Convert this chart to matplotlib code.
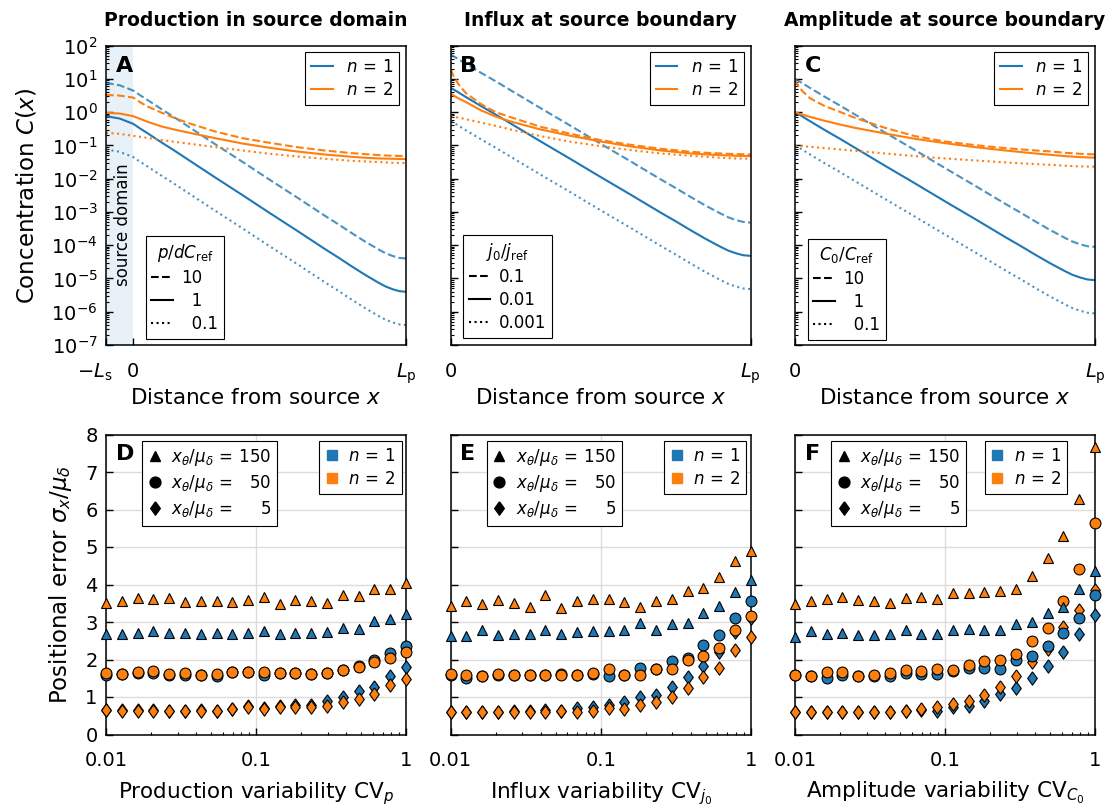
import numpy as np
import matplotlib
matplotlib.use("Agg")
import matplotlib.pyplot as plt
from matplotlib.lines import Line2D
from matplotlib.transforms import ScaledTranslation
from matplotlib.ticker import (LogLocator, NullFormatter, FixedLocator,
                               FixedFormatter, MultipleLocator)

plt.rcParams['font.family'] = ['DejaVu Sans']
plt.rcParams['mathtext.fontset'] = 'dejavusans'
plt.rcParams['axes.linewidth'] = 1.1

BLUE = '#1f77b4'
ORANGE = '#ff7f0e'

# ---------------- top row: concentration profiles (log10 C) ----------------
top_titles = ['Production in source domain', 'Influx at source boundary',
              'Amplitude at source boundary']
top_letters = ['A', 'B', 'C']
style_titles = [r'$p/dC_\mathrm{ref}$', r'$j_0/j_\mathrm{ref}$', r'$C_0/C_\mathrm{ref}$']
style_labels = [['10', '\u20071', '\u20070.1'],
                ['0.1', '0.01', '0.001'],
                ['10', '\u20071', '\u20070.1']]
n_labels = [r'$n\,=\,1$', r'$n\,=\,2$']

# n = 1 (blue) curves
x_A_n1 = [-0.1, -0.05, 0, 0.025, 0.05, 0.1, 0.15, 0.2, 0.3, 0.4, 0.5, 0.6, 0.65,
          0.7, 0.75, 0.8, 0.85, 0.875, 0.9, 0.925, 0.95, 0.975, 1.0]
A_n1_high = [0.88, 0.81, 0.65, 0.51, 0.38, 0.11, -0.15, -0.42, -0.96, -1.49, -2.03,
             -2.56, -2.83, -3.10, -3.36, -3.63, -3.89, -4.01, -4.13, -4.24, -4.32,
             -4.38, -4.40]
A_n1_mid = [-0.12, -0.19, -0.35, -0.49, -0.62, -0.89, -1.15, -1.42, -1.96, -2.49, -3.03,
            -3.56, -3.83, -4.10, -4.36, -4.63, -4.89, -5.01, -5.13, -5.24, -5.32,
            -5.38, -5.40]
A_n1_low = [-1.12, -1.19, -1.35, -1.49, -1.62, -1.89, -2.15, -2.42, -2.96, -3.49, -4.03,
            -4.56, -4.83, -5.10, -5.36, -5.63, -5.89, -6.01, -6.13, -6.24, -6.32,
            -6.38, -6.40]

x_B_n1 = [0, 0.01, 0.025, 0.05, 0.1, 0.15, 0.2, 0.3, 0.4, 0.5, 0.6, 0.65, 0.7, 0.75,
          0.8, 0.85, 0.875, 0.9, 0.925, 0.95, 0.975, 1.0]
B_n1_high = [1.73, 1.68, 1.60, 1.46, 1.19, 0.93, 0.66, 0.12, -0.41, -0.95, -1.48,
             -1.75, -2.02, -2.28, -2.55, -2.81, -2.93, -3.05, -3.16, -3.24, -3.30, -3.32]
B_n1_mid = [0.73, 0.68, 0.60, 0.46, 0.19, -0.07, -0.34, -0.88, -1.41, -1.95, -2.48,
            -2.75, -3.02, -3.28, -3.55, -3.81, -3.93, -4.05, -4.16, -4.24, -4.30, -4.32]
B_n1_low = [-0.27, -0.32, -0.40, -0.54, -0.81, -1.07, -1.34, -1.88, -2.41, -2.95, -3.48,
            -3.75, -4.02, -4.28, -4.55, -4.81, -4.93, -5.05, -5.16, -5.24, -5.30, -5.32]

x_C_n1 = [0, 0.01, 0.025, 0.05, 0.1, 0.15, 0.2, 0.3, 0.4, 0.5, 0.6, 0.65, 0.7, 0.75,
          0.8, 0.85, 0.875, 0.9, 0.925, 0.95, 0.975, 1.0]
C_n1_high = [1.0, 0.95, 0.87, 0.73, 0.46, 0.20, -0.07, -0.61, -1.14, -1.68, -2.21,
             -2.48, -2.75, -3.01, -3.28, -3.54, -3.66, -3.78, -3.89, -3.97, -4.03, -4.05]
C_n1_mid = [0.0, -0.05, -0.13, -0.27, -0.54, -0.80, -1.07, -1.61, -2.14, -2.68, -3.21,
            -3.48, -3.75, -4.01, -4.28, -4.54, -4.66, -4.78, -4.89, -4.97, -5.03, -5.05]
C_n1_low = [-1.0, -1.05, -1.13, -1.27, -1.54, -1.80, -2.07, -2.61, -3.14, -3.68, -4.21,
            -4.48, -4.75, -5.01, -5.28, -5.54, -5.66, -5.78, -5.89, -5.97, -6.03, -6.05]

# n = 2 (orange) curves
x_A_n2 = [-0.1, -0.05, 0, 0.025, 0.05, 0.1, 0.15, 0.2, 0.3, 0.4, 0.5, 0.6, 0.7,
          0.8, 0.85, 0.9, 0.95, 1.0]
A_n2_high = [0.52, 0.50, 0.44, 0.30, 0.18, 0.0, -0.17, -0.32, -0.58, -0.78,
             -0.92, -1.05, -1.15, -1.23, -1.26, -1.29, -1.31, -1.32]
A_n2_mid = [-0.02, -0.04, -0.12, -0.20, -0.28, -0.42, -0.52, -0.61, -0.78, -0.94,
            -1.07, -1.18, -1.27, -1.34, -1.37, -1.39, -1.40, -1.41]
A_n2_low = [-0.62, -0.65, -0.71, -0.74, -0.77, -0.83, -0.89, -0.94, -1.05, -1.15,
            -1.25, -1.33, -1.40, -1.46, -1.48, -1.50, -1.52, -1.53]

x_B_n2 = [0, 0.01, 0.025, 0.05, 0.1, 0.15, 0.2, 0.3, 0.4, 0.5, 0.6, 0.7, 0.8,
          0.85, 0.9, 0.95, 1.0]
B_n2_high = [1.28, 1.08, 0.85, 0.58, 0.25, 0.0, -0.15, -0.44, -0.65, -0.84,
             -0.98, -1.10, -1.19, -1.22, -1.24, -1.26, -1.27]
B_n2_mid = [0.55, 0.50, 0.42, 0.31, 0.06, -0.13, -0.28, -0.52, -0.71, -0.88,
            -1.03, -1.15, -1.24, -1.27, -1.29, -1.31, -1.32]
B_n2_low = [-0.12, -0.14, -0.16, -0.21, -0.31, -0.41, -0.52, -0.72, -0.89, -1.02,
            -1.14, -1.24, -1.31, -1.34, -1.37, -1.39, -1.40]

x_C_n2 = [0, 0.01, 0.025, 0.05, 0.1, 0.15, 0.2, 0.3, 0.4, 0.5, 0.6, 0.7, 0.8,
          0.85, 0.9, 0.95, 1.0]
C_n2_high = [0.98, 0.80, 0.63, 0.42, 0.18, 0.01, -0.17, -0.47, -0.72, -0.88,
             -0.99, -1.08, -1.15, -1.18, -1.22, -1.25, -1.27]
C_n2_mid = [0.0, -0.03, -0.07, -0.14, -0.26, -0.37, -0.47, -0.64, -0.80, -0.93,
            -1.05, -1.15, -1.24, -1.28, -1.32, -1.35, -1.37]
C_n2_low = [-1.0, -1.01, -1.02, -1.04, -1.08, -1.12, -1.16, -1.24, -1.32, -1.39,
            -1.45, -1.51, -1.56, -1.58, -1.61, -1.63, -1.64]

top_x_n1 = [x_A_n1, x_B_n1, x_C_n1]
top_x_n2 = [x_A_n2, x_B_n2, x_C_n2]
top_n1 = [[A_n1_high, A_n1_mid, A_n1_low], [B_n1_high, B_n1_mid, B_n1_low],
          [C_n1_high, C_n1_mid, C_n1_low]]
top_n2 = [[A_n2_high, A_n2_mid, A_n2_low], [B_n2_high, B_n2_mid, B_n2_low],
          [C_n2_high, C_n2_mid, C_n2_low]]
top_xticks = [[-0.1, 0, 1], [0, 1], [0, 1]]
top_xticklabels = [[r'$-L_\mathrm{s}$', '0', r'$L_\mathrm{p}$'],
                   ['0', r'$L_\mathrm{p}$'], ['0', r'$L_\mathrm{p}$']]

# ---------------- bottom row: positional error ----------------
cv = np.logspace(-2, 0, 20)
bottom_letters = ['D', 'E', 'F']
bottom_xlabels = [r'Production variability CV$_p$', r'Influx variability CV$_{j_0}$',
                  r'Amplitude variability CV$_{C_0}$']
marker_labels = [r'$x_\theta/\mu_\delta\,=\,150$', r'$x_\theta/\mu_\delta\,=\,\enspace\,50$',
                 r'$x_\theta/\mu_\delta\,=\,\quad\,\,5$']

D_tri_n1 = [2.68, 2.69, 2.71, 2.75, 2.72, 2.71, 2.69, 2.72, 2.68, 2.71, 2.76, 2.68, 2.72, 2.72, 2.73, 2.85, 2.82, 3.03, 3.07, 3.21]
D_tri_n2 = [3.52, 3.55, 3.63, 3.62, 3.63, 3.53, 3.55, 3.55, 3.53, 3.59, 3.66, 3.48, 3.59, 3.55, 3.52, 3.71, 3.70, 3.88, 3.89, 4.04]
D_circ_n1 = [1.59, 1.61, 1.64, 1.65, 1.60, 1.59, 1.58, 1.56, 1.66, 1.66, 1.59, 1.64, 1.63, 1.61, 1.65, 1.71, 1.84, 2.00, 2.18, 2.35]
D_circ_n2 = [1.64, 1.62, 1.66, 1.69, 1.62, 1.65, 1.58, 1.62, 1.67, 1.67, 1.67, 1.65, 1.65, 1.62, 1.64, 1.73, 1.80, 1.93, 2.04, 2.20]
D_dia_n1 = [0.66, 0.65, 0.66, 0.65, 0.64, 0.63, 0.65, 0.64, 0.68, 0.76, 0.70, 0.76, 0.78, 0.80, 0.89, 0.99, 1.15, 1.28, 1.57, 1.80]
D_dia_n2 = [0.65, 0.64, 0.64, 0.64, 0.62, 0.62, 0.64, 0.62, 0.67, 0.73, 0.67, 0.73, 0.74, 0.74, 0.77, 0.86, 0.95, 1.07, 1.31, 1.49]

E_tri_n1 = [2.62, 2.62, 2.78, 2.65, 2.69, 2.68, 2.78, 2.69, 2.74, 2.76, 2.76, 2.78, 2.98, 2.80, 2.94, 2.98, 3.25, 3.43, 3.80, 4.12]
E_tri_n2 = [3.44, 3.57, 3.48, 3.59, 3.52, 3.41, 3.72, 3.37, 3.55, 3.62, 3.61, 3.53, 3.41, 3.55, 3.61, 3.83, 3.90, 4.20, 4.64, 4.89]
E_circ_n1 = [1.60, 1.51, 1.56, 1.59, 1.58, 1.58, 1.58, 1.62, 1.58, 1.62, 1.56, 1.58, 1.78, 1.75, 1.95, 2.04, 2.38, 2.65, 3.10, 3.55]
E_circ_n2 = [1.62, 1.59, 1.56, 1.62, 1.59, 1.58, 1.58, 1.58, 1.58, 1.64, 1.75, 1.58, 1.60, 1.75, 1.75, 1.98, 2.09, 2.32, 2.80, 3.17]
E_dia_n1 = [0.61, 0.61, 0.61, 0.61, 0.64, 0.64, 0.66, 0.64, 0.70, 0.73, 0.80, 0.86, 0.99, 1.06, 1.28, 1.53, 1.84, 2.20, 2.74, 3.10]
E_dia_n2 = [0.59, 0.59, 0.59, 0.59, 0.59, 0.59, 0.59, 0.62, 0.61, 0.64, 0.71, 0.68, 0.80, 0.86, 0.99, 1.24, 1.53, 1.77, 2.25, 2.61]

F_tri_n1 = [2.61, 2.76, 2.68, 2.72, 2.65, 2.65, 2.69, 2.78, 2.69, 2.68, 2.80, 2.81, 2.78, 2.78, 2.96, 3.01, 3.23, 3.41, 3.88, 4.35]
F_tri_n2 = [3.48, 3.55, 3.61, 3.68, 3.59, 3.55, 3.50, 3.63, 3.68, 3.61, 3.77, 3.77, 3.80, 3.84, 3.88, 4.22, 4.71, 5.29, 6.29, 7.66]
F_circ_n1 = [1.58, 1.55, 1.51, 1.59, 1.56, 1.56, 1.56, 1.65, 1.62, 1.62, 1.69, 1.78, 1.78, 1.75, 1.98, 2.09, 2.35, 2.71, 3.10, 3.71]
F_circ_n2 = [1.60, 1.55, 1.67, 1.68, 1.56, 1.59, 1.65, 1.71, 1.69, 1.74, 1.71, 1.86, 1.95, 1.98, 2.16, 2.50, 2.83, 3.55, 4.41, 5.65]
F_dia_n1 = [0.59, 0.59, 0.59, 0.59, 0.59, 0.59, 0.59, 0.62, 0.66, 0.64, 0.73, 0.77, 0.89, 1.07, 1.24, 1.51, 1.84, 2.20, 2.68, 3.19]
F_dia_n2 = [0.59, 0.59, 0.59, 0.59, 0.59, 0.59, 0.59, 0.64, 0.68, 0.74, 0.81, 0.90, 1.06, 1.26, 1.55, 1.93, 2.29, 2.87, 3.32, 3.86]

bottom_data = [
    {'dia': (D_dia_n1, D_dia_n2), 'circ': (D_circ_n1, D_circ_n2), 'tri': (D_tri_n1, D_tri_n2)},
    {'dia': (E_dia_n1, E_dia_n2), 'circ': (E_circ_n1, E_circ_n2), 'tri': (E_tri_n1, E_tri_n2)},
    {'dia': (F_dia_n1, F_dia_n2), 'circ': (F_circ_n1, F_circ_n2), 'tri': (F_tri_n1, F_tri_n2)},
]
bottom_xticks = [0.01, 0.1, 1]
bottom_xticklabels = ['0.01', '0.1', '1']

# ---------------- figure ----------------
W, H = 1110, 809
fig = plt.figure(figsize=(W / 100, H / 100), dpi=100)


def add_ax(left, top, w=300, h=300):
    return fig.add_axes([left / W, 1 - (top + h) / H, w / W, h / H])


lefts = [106, 450.7, 795]
top_axes = [add_ax(l, 45.7, h=299.3) for l in lefts]
bot_axes = [add_ax(l, 434.5, h=300) for l in lefts]

DIAMOND = [(0, 1), (0.72, 0), (0, -1), (-0.72, 0), (0, 1)]
markers = {'tri': ('^', 7.8), 'circ': ('o', 7.8), 'dia': (DIAMOND, 9.6)}
styles = ['--', '-', ':']

for i, ax in enumerate(top_axes):
    if i == 0:
        ax.axvspan(-0.1, 0, color='#e8f1f7', lw=0, zorder=0)
        ax.text(-0.037, 10 ** -3.38, 'source domain', rotation=90, ha='center',
                va='center', fontsize=12)
    for vals, ls in zip(top_n1[i], styles):
        ax.plot(top_x_n1[i], 10 ** np.array(vals), color=BLUE, ls=ls, lw=1.5,
                alpha=1.0 if ls == '-' else 0.8)
    for vals, ls in zip(top_n2[i], styles):
        ax.plot(top_x_n2[i], 10 ** np.array(vals), color=ORANGE, ls=ls, lw=1.5)
    ax.set_yscale('log')
    ax.set_ylim(1e-7, 1e2)
    ax.set_xlim(top_xticks[i][0], 1.0)
    ax.yaxis.set_major_locator(LogLocator(base=10, numticks=100))
    ax.yaxis.set_minor_locator(LogLocator(base=10, subs=np.arange(2, 10) * 1.0, numticks=100))
    ax.yaxis.set_minor_formatter(NullFormatter())
    ax.xaxis.set_major_locator(FixedLocator(top_xticks[i]))
    ax.xaxis.set_major_formatter(FixedFormatter(top_xticklabels[i]))
    ax.tick_params(axis='both', which='both', direction='in', top=False, right=False,
                   labelsize=14)
    ax.tick_params(axis='y', which='major', length=5, width=1, pad=6)
    ax.tick_params(axis='y', which='minor', length=2.5, width=0.8)
    ax.tick_params(axis='x', which='major', length=5, width=1, pad=12)
    if i > 0:
        ax.tick_params(axis='y', labelleft=False)
    else:
        ax.set_ylabel(r'Concentration $C(x)$', fontsize=16.5)
        ax.yaxis.set_label_coords(-0.224, 0.5)
    ax.set_xlabel(r'Distance from source $x$', fontsize=15.5)
    ax.xaxis.set_label_coords(0.5, -0.145)
    ax.set_title(top_titles[i], fontsize=13.5, fontweight='bold', pad=14)
    ax.text(0.032, 0.913, top_letters[i], transform=ax.transAxes, fontsize=16,
            fontweight='bold', va='baseline', ha='left')
    h_n = [Line2D([], [], color=BLUE, lw=1.5), Line2D([], [], color=ORANGE, lw=1.5)]
    leg1 = ax.legend(h_n, n_labels, loc='upper right', bbox_to_anchor=(0.978, 0.978),
                     borderaxespad=0, fontsize=12, handlelength=1.3, handletextpad=0.8,
                     labelspacing=0.3, borderpad=0.35, fancybox=False, framealpha=1,
                     edgecolor='black')
    leg1.get_frame().set_linewidth(0.8)
    ax.add_artist(leg1)
    h_s = [Line2D([], [], color='black', ls=ls, lw=1.5) for ls in styles]
    anchors = [(0.132, 0.02), (0.04, 0.024), (0.042, 0.017)]
    leg2 = ax.legend(h_s, style_labels[i], title=style_titles[i], loc='lower left',
                     bbox_to_anchor=anchors[i], borderaxespad=0, fontsize=12,
                     title_fontsize=12, handlelength=1.3, handletextpad=0.5,
                     labelspacing=0.3, borderpad=0.35, fancybox=False, framealpha=1,
                     edgecolor='black')
    leg2.get_frame().set_linewidth(0.8)

marker_leg_anchor = [(0.12, 0.977), (0.12, 0.977), (0.12, 0.977)]
n_leg_anchor = [(0.711, 0.977), (0.711, 0.977), (0.633, 0.977)]

for i, ax in enumerate(bot_axes):
    data = bottom_data[i]
    for key in ['dia', 'circ', 'tri']:
        mk, ms = markers[key]
        for vals, col in zip(data[key], [BLUE, ORANGE]):
            ax.plot(cv, vals, ls='none', marker=mk, ms=ms, mfc=col, mec='black',
                    mew=0.8, clip_on=False, zorder=3)
    ax.set_xscale('log')
    ax.set_xlim(0.01, 1)
    ax.set_ylim(0, 8)
    ax.yaxis.set_major_locator(MultipleLocator(1))
    ax.xaxis.set_major_locator(FixedLocator(bottom_xticks))
    ax.xaxis.set_major_formatter(FixedFormatter(bottom_xticklabels))
    ax.xaxis.set_minor_locator(LogLocator(base=10, subs=np.arange(2, 10) * 1.0, numticks=100))
    ax.xaxis.set_minor_formatter(NullFormatter())
    ax.grid(True, which='major', color='#dcdcdc', lw=1.0)
    ax.set_axisbelow(True)
    ax.tick_params(axis='both', which='both', direction='in', top=False, right=False,
                   labelsize=14)
    ax.tick_params(axis='both', which='major', length=5, width=1)
    ax.tick_params(axis='x', which='major', pad=12)
    ax.tick_params(axis='y', which='major', pad=6)
    ax.tick_params(axis='x', which='minor', length=2.5, width=0.8)
    if i > 0:
        ax.tick_params(axis='y', labelleft=False)
    else:
        ax.set_ylabel(r'Positional error $\sigma_x/\mu_\delta$', fontsize=16.5)
        ax.yaxis.set_label_coords(-0.108, 0.5)
    ax.set_xlabel(bottom_xlabels[i], fontsize=15.5)
    ax.xaxis.set_label_coords(0.5, -0.152)
    ax.text(0.032, 0.915, bottom_letters[i], transform=ax.transAxes, fontsize=16,
            fontweight='bold', va='baseline', ha='left')
    h_m = [Line2D([], [], ls='none', marker=markers[k][0], ms=markers[k][1],
                  mfc='black', mec='black') for k in ['tri', 'circ', 'dia']]
    leg1 = ax.legend(h_m, marker_labels, loc='upper left', bbox_to_anchor=marker_leg_anchor[i],
                     borderaxespad=0, fontsize=12, handlelength=0.8, handletextpad=0.6,
                     labelspacing=0.3, borderpad=0.35, fancybox=False, framealpha=1,
                     edgecolor='black')
    leg1.get_frame().set_linewidth(0.8)
    ax.add_artist(leg1)
    h_c = [Line2D([], [], ls='none', marker='s', ms=7.5, mfc=c, mec=c) for c in [BLUE, ORANGE]]
    leg2 = ax.legend(h_c, n_labels, loc='upper left', bbox_to_anchor=n_leg_anchor[i],
                     borderaxespad=0, fontsize=12, handlelength=0.8, handletextpad=0.6,
                     labelspacing=0.3, borderpad=0.35, fancybox=False, framealpha=1,
                     edgecolor='black')
    leg2.get_frame().set_linewidth(0.8)

# nudge the "-L_s" tick label left so it clears the "0" label
fig.canvas.draw()
first_tick = top_axes[0].xaxis.get_major_ticks()[0]
first_tick.label1.set_transform(first_tick.label1.get_transform()
                                + ScaledTranslation(-8 / 72, 0, fig.dpi_scale_trans))

fig.savefig('out.png', dpi=100)
